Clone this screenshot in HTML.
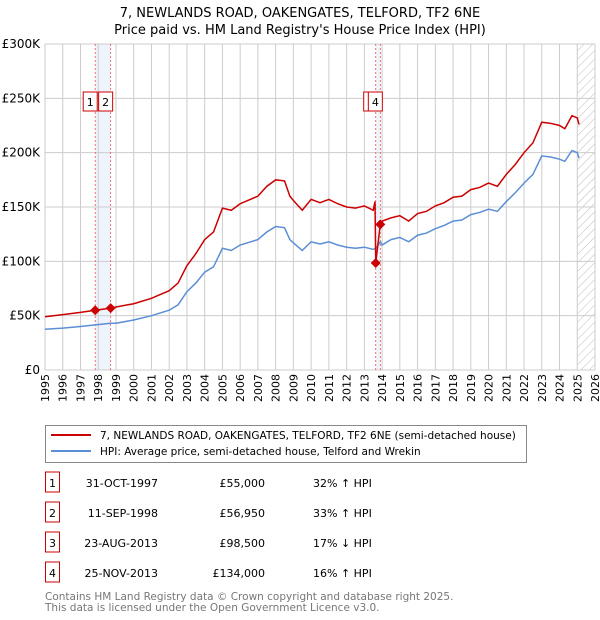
<!DOCTYPE html>
<html><head><meta charset="utf-8"><style>
body{margin:0;background:#fff;font-family:"Liberation Sans","DejaVu Sans",sans-serif;}
#c{position:relative;width:600px;height:620px;overflow:hidden}
</style></head><body><div id="c">
<svg id="s" width="600" height="620" xmlns="http://www.w3.org/2000/svg" font-family="DejaVu Sans, Liberation Sans, sans-serif">
<defs><pattern id="hatch" width="6" height="6" patternUnits="userSpaceOnUse" patternTransform="rotate(45)"><line x1="0" y1="0" x2="0" y2="6" stroke="#bbb" stroke-width="1"/></pattern></defs>
<text x="300" y="17" text-anchor="middle" font-size="13">7, NEWLANDS ROAD, OAKENGATES, TELFORD, TF2 6NE</text>
<text x="300" y="34" text-anchor="middle" font-size="13">Price paid vs. HM Land Registry's House Price Index (HPI)</text>
<g id="grid"></g><g id="marks"></g><g id="axes"></g>
</svg>
<svg width="600" height="620" style="position:absolute;left:0;top:0" font-family="DejaVu Sans, Liberation Sans, sans-serif">
<rect x="45.5" y="425.5" width="481" height="37" fill="#fff" stroke="#888"/>
<line x1="51" y1="435" x2="91" y2="435" stroke="#cc0000" stroke-width="2"/>
<text x="100" y="439" font-size="10.5">7, NEWLANDS ROAD, OAKENGATES, TELFORD, TF2 6NE (semi-detached house)</text>
<line x1="51" y1="451" x2="91" y2="451" stroke="#5b8ed6" stroke-width="2"/>
<text x="100" y="455" font-size="10.5">HPI: Average price, semi-detached house, Telford and Wrekin</text>
<g font-size="11" id="tbl"></g>
<text x="45" y="600" font-size="10.5" fill="#777">Contains HM Land Registry data © Crown copyright and database right 2025.</text>
<text x="45" y="611" font-size="10.5" fill="#777">This data is licensed under the Open Government Licence v3.0.</text>
</svg>
</div>
<script>
const hpiYears=[1995,1996,1997,1997.83,1998.7,1999,2000,2001,2002,2002.5,2003,2003.5,2004,2004.5,2005,2005.5,2006,2007,2007.5,2008,2008.5,2008.8,2009,2009.5,2010,2010.5,2011,2011.5,2012,2012.5,2013,2013.5,2013.64,2013.9,2014,2014.5,2015,2015.5,2016,2016.5,2017,2017.5,2018,2018.5,2019,2019.5,2020,2020.5,2021,2021.5,2022,2022.5,2023,2023.5,2024,2024.3,2024.7,2025,2025.1];
const hpiValues=[37.5,38.5,40,41.5,43,43,46,50,55,60,72,80,90,95,112,110,115,120,127,132,131,120,117,110,118,116,118,115,113,112,113,111,112,118,115,120,122,118,124,126,130,133,137,138,143,145,148,146,155,163,172,180,197,196,194,192,202,200,195];
const redYears=[1995,1996,1997,1997.83,1998.7,1999,2000,2001,2002,2002.5,2003,2003.5,2004,2004.5,2005,2005.5,2006,2007,2007.5,2008,2008.5,2008.8,2009,2009.5,2010,2010.5,2011,2011.5,2012,2012.5,2013,2013.5,2013.6,2013.64,2013.9,2014,2014.5,2015,2015.5,2016,2016.5,2017,2017.5,2018,2018.5,2019,2019.5,2020,2020.5,2021,2021.5,2022,2022.5,2023,2023.5,2024,2024.3,2024.7,2025,2025.1];
const redValues=[49,51,53,55,56.95,58,61,66,73,80,96,107,120,127,149,147,153,160,169,175,174,160,156,147,157,154,157,153,150,149,151,147,155,98.5,134,137,140,142,137,144,146,151,154,159,160,166,168,172,169,180,189,200,209,228,227,225,222,234,232,226];
const saleLabels=["1","2","3","4"];
const saleYears=[1997.83,1998.7,2013.64,2013.9];
const salePrices=[55,56.95,98.5,134];
const saleDates=["31-OCT-1997","11-SEP-1998","23-AUG-2013","25-NOV-2013"];
const salePriceText=["£55,000","£56,950","£98,500","£134,000"];
const saleHpiText=["32% ↑ HPI","33% ↑ HPI","17% ↓ HPI","16% ↑ HPI"];
const yTicks=[0,50,100,150,200,250,300];
const yTickLabels=["£0","£50K","£100K","£150K","£200K","£250K","£300K"];
const xTicks=[1995,1996,1997,1998,1999,2000,2001,2002,2003,2004,2005,2006,2007,2008,2009,2010,2011,2012,2013,2014,2015,2016,2017,2018,2019,2020,2021,2022,2023,2024,2025,2026];
const NS="http://www.w3.org/2000/svg";
const X0=45,X1=595,Y0=370,Y1=44;
const xs=y=>X0+(y-1995)/(2026-1995)*(X1-X0);
const ys=v=>Y0-v/300*(Y0-Y1);
function mk(t,a,p){const e=document.createElementNS(NS,t);for(const k in a)e.setAttribute(k,a[k]);p.appendChild(e);return e;}
const g=document.getElementById('grid'),m=document.getElementById('marks'),ax=document.getElementById('axes');
mk('rect',{x:X0,y:Y1,width:X1-X0,height:Y0-Y1,fill:'#fff'},g);
let hb=mk('rect',{x:xs(2025.0),y:Y1,width:X1-xs(2025.0),height:Y0-Y1,fill:'url(#hatch)'},g);


for(let i=0;i<2;i++){const a=saleYears[i*2],b=saleYears[i*2+1];
let r=mk('rect',{x:xs(a),y:Y1,width:xs(b)-xs(a),height:Y0-Y1,fill:'#eef3fc'},g);

}
xTicks.forEach(t=>{let l=mk('line',{x1:xs(t),x2:xs(t),y1:Y1,y2:Y0,stroke:'#ccc'},g);


let tx=mk('text',{x:0,y:0,'font-size':11,'text-anchor':'end',transform:`translate(${xs(t)+4},${Y0+4}) rotate(-90)`},ax);tx.textContent=t;

});
yTicks.forEach((t,i)=>{let l=mk('line',{x1:X0,x2:X1,y1:ys(t),y2:ys(t),stroke:'#ccc'},g);


let tx=mk('text',{x:X0-5,y:ys(t)+4,'font-size':12,'text-anchor':'end'},ax);tx.textContent=yTickLabels[i];

});
saleYears.forEach(s=>{let l=mk('line',{x1:xs(s),x2:xs(s),y1:Y1,y2:Y0,stroke:'#e55','stroke-dasharray':'2,2','stroke-width':0.8},g);

});
let hp=mk('polyline',{points:hpiYears.map((y,i)=>xs(y)+','+ys(hpiValues[i])).join(' '),fill:'none',stroke:'#5b8ed6','stroke-width':1.5},m);


let rp=mk('polyline',{points:redYears.map((y,i)=>xs(y)+','+ys(redValues[i])).join(' '),fill:'none',stroke:'#cc0000','stroke-width':1.5},m);


saleYears.forEach((s,i)=>{const cx=xs(s),cy=ys(salePrices[i]);
let d=mk('polygon',{points:`${cx},${cy-5} ${cx+5},${cy} ${cx},${cy+5} ${cx-5},${cy}`,fill:'#cc0000'},m);

});
[0,1,2,3].forEach(i=>{const cx=xs(saleYears[i])-5;
let r=mk('rect',{x:cx-7,y:92,width:14,height:19,fill:'#fff',stroke:'#cc0000'},ax);


let t=mk('text',{x:cx,y:106,'font-size':11,'text-anchor':'middle'},ax);t.textContent=saleLabels[i];

});
const tb=document.getElementById('tbl');
saleLabels.forEach((l,i)=>{const y=483+i*30;
let r=mk('rect',{x:45.5,y:y-11,width:14,height:20,fill:'#fff',stroke:'#cc0000'},tb);


let t=mk('text',{x:52.5,y:y+4,'text-anchor':'middle'},tb);t.textContent=l;


let d=mk('text',{x:158,y:y+4,'text-anchor':'end'},tb);d.textContent=saleDates[i];


let p=mk('text',{x:265,y:y+4,'text-anchor':'end'},tb);p.textContent=salePriceText[i];


let h=mk('text',{x:313,y:y+4},tb);h.textContent=saleHpiText[i];

});
</script></body></html>
